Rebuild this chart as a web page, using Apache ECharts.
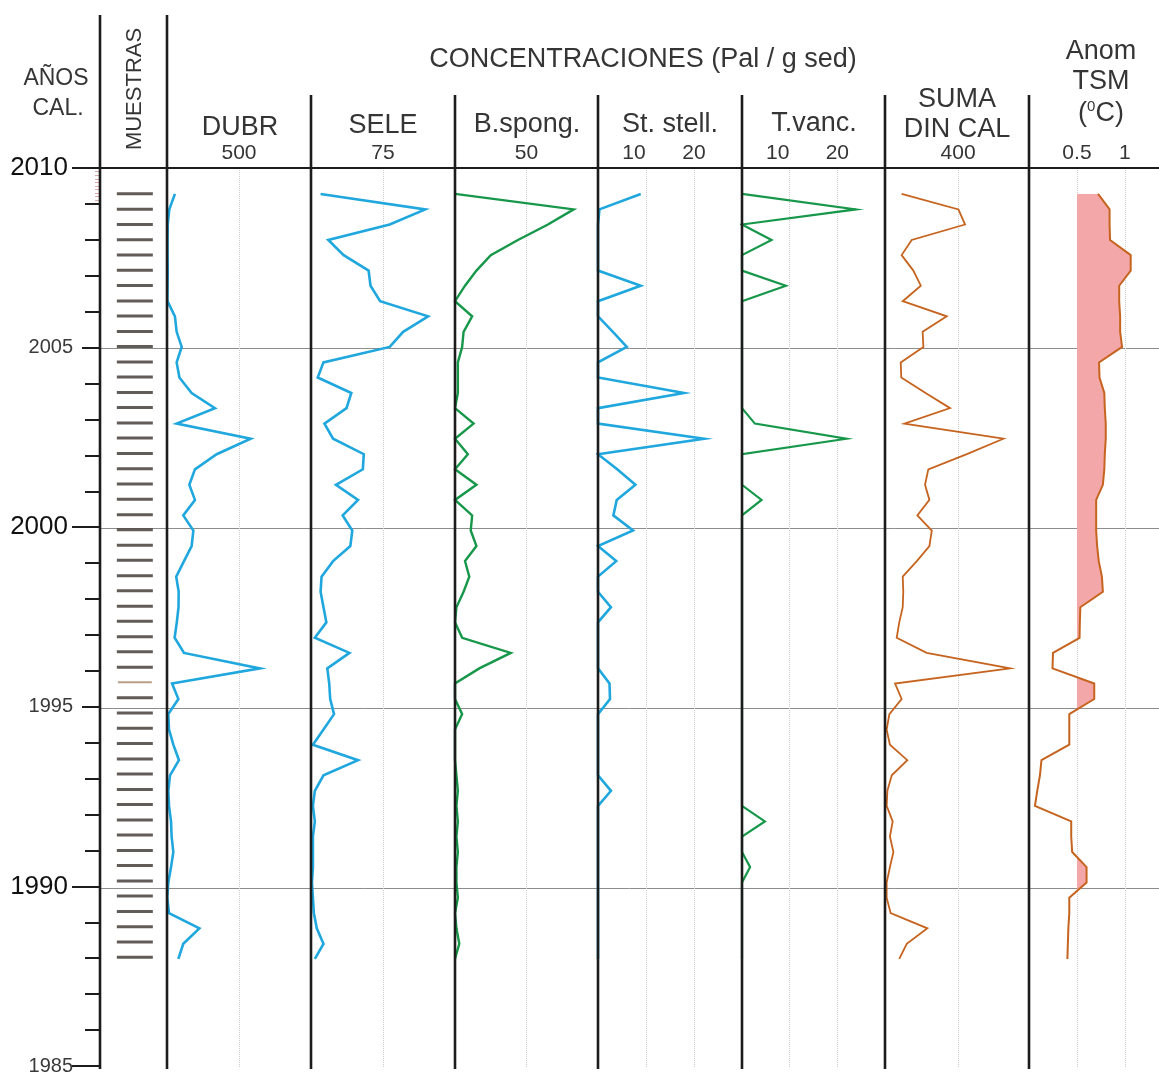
<!DOCTYPE html>
<html>
<head>
<meta charset="utf-8">
<script src="https://cdn.jsdelivr.net/npm/echarts@6/dist/echarts.min.js"></script>
<style>
  html, body { margin: 0; padding: 0; background: #ffffff; }
  #chart { width: 1159px; height: 1076px; }
</style>
</head>
<body>
<div id="chart"></div>
<script>
// Calibrated ages of the core samples (years AD), top to bottom
const sampleAge = [2009.28, 2008.85, 2008.43, 2008.00, 2007.58, 2007.15, 2006.73, 2006.30, 2005.88, 2005.45,
  2005.03, 2004.60, 2004.18, 2003.75, 2003.33, 2002.90, 2002.48, 2002.05, 2001.63, 2001.20,
  2000.78, 2000.35, 1999.93, 1999.50, 1999.08, 1998.65, 1998.23, 1997.80, 1997.38, 1996.95,
  1996.53, 1996.10, 1995.68, 1995.25, 1994.83, 1994.40, 1993.98, 1993.55, 1993.13, 1992.70,
  1992.28, 1991.85, 1991.43, 1991.00, 1990.58, 1990.15, 1989.73, 1989.30, 1988.88, 1988.45, 1988.03];

// Concentrations (Pal / g sed), one value per sample
const dubr = [55, 16, 5, 4, 4, 5, 4, 3, 55, 67,
  102, 67, 86, 171, 333, 67, 581, 345, 194, 155,
  194, 113, 183, 171, 118, 64, 81, 80, 68, 53,
  118, 646, 35, 79, 9, 14, 44, 83, 21, 9,
  14, 28, 32, 44, 28, 9, 2, 14, 225, 113, 79];
const sele = [10, 119, 82, 18, 34, 60, 62, 72, 122, 96,
  82, 13, 7, 42, 37, 14, 23, 55, 54, 26,
  49, 33, 43, 41, 23, 11, 10, 13, 16, 4,
  40, 17, 19, 20, 24, 13, 2, 49, 13, 4,
  2, 4, 2, 2, 2, 1, 2, 3, 6, 13, 4];
const bspong = [0, 83, 65, 44, 25, 15, 7, 0, 12, 6,
  5, 2, 2, 2, 0, 13, 0, 9, 0, 15,
  0, 12, 11, 15, 7, 10, 6, 1, 0, 5,
  39, 17, 0, 0, 5, 0, 0, 0, 1, 2,
  1, 2, 1, 2, 1, 1, 2, 0, 1, 3, 0];
const ststell = [8.9, 0.3, 0, 0, 0, 0, 8.9, 0, 0, 3.1,
  6.0, 0, 0, 17.9, 0, 0, 22.1, 0, 4.0, 7.8,
  3.9, 3.2, 7.3, 0, 3.8, 0, 0, 2.7, 0, 0,
  0, 0, 2.4, 2.5, 0, 0, 0, 0, 0, 2.7,
  0, 0, 0, 0, 0, 0, 0, 0, 0, 0, 0];
const tvanc = [0, 23.9, 0, 6.2, 0, 0, 9.2, 0, 0, 0,
  0, 0, 0, 0, 0, 2.7, 21.9, 0, 0, 0,
  4.1, 0, 0, 0, 0, 0, 0, 0, 0, 0,
  0, 0, 0, 0, 0, 0, 0, 0, 0, 0,
  0, 4.8, 0, 0, 1.7, 0, 0, 0, 0, 0, 0];
const sumaDinCal = [91, 402, 438, 146, 91, 155, 196, 97, 338, 206,
  210, 86, 89, 222, 356, 106, 648, 448, 237, 219,
  243, 177, 256, 243, 174, 97, 100, 97, 78, 64,
  228, 685, 55, 91, 24, 9, 27, 122, 37, 13,
  9, 42, 27, 46, 27, 9, 9, 31, 232, 119, 78];
// Sea-surface temperature anomaly (°C)
const anomTsm = [0.72, 0.84, 0.84, 0.845, 1.06, 1.06, 0.94, 0.94, 0.95, 0.95,
  0.97, 0.73, 0.735, 0.785, 0.79, 0.80, 0.80, 0.79, 0.785, 0.77,
  0.70, 0.70, 0.70, 0.71, 0.727, 0.76, 0.77, 0.535, 0.53, 0.527,
  0.25, 0.245, 0.68, 0.68, 0.42, 0.42, 0.42, 0.13, 0.114, 0.086,
  0.062, 0.44, 0.44, 0.45, 0.60, 0.60, 0.42, 0.42, 0.41, 0.405, 0.40];
const anomBase = 0.5;

// Age axis labels and tick groups
const ageLabels = [1985, 1990, 1995, 2000, 2005, 2010];
const ageMidTicks = [1995, 2005];
const ageLongTicks = [1985, 1990, 2000, 2010];
const rulerTicks = [2009.1, 2009.2, 2009.3, 2009.4, 2009.5, 2009.6, 2009.7, 2009.8, 2009.9];
const paleSampleIndex = 32;

// Scale labels printed above each column
const dubrLabels = [500];
const seleLabels = [75];
const bspongLabels = [50];
const ststellLabels = [10, 20];
const tvancLabels = [10, 20];
const sumaLabels = [400];
const anomLabels = [0.5, 1];

const FONT = '"Liberation Sans", Arial, Helvetica, sans-serif';
const INK = '#1c1c1c';
const TEXT = '#353535';
const BLUE = '#1fa7de';
const GREEN = '#17974a';
const ORANGE = '#c6641f';
const PINK = '#f4a7a8';
const TOP = 168, HEIGHT = 900;

const panels = [
  { left: 167, width: 144, max: 1000, interval: 500, labels: dubrLabels, data: dubr, color: BLUE, lw: 2.6 },
  { left: 311, width: 144, max: 150, interval: 75, labels: seleLabels, data: sele, color: BLUE, lw: 2.6 },
  { left: 455, width: 143, max: 100, interval: 50, labels: bspongLabels, data: bspong, color: GREEN, lw: 2.4 },
  { left: 598, width: 144, max: 30, interval: 10, labels: ststellLabels, data: ststell, color: BLUE, lw: 2.6, shift: 10 },
  { left: 742, width: 143, max: 30, interval: 10, labels: tvancLabels, data: tvanc, color: GREEN, lw: 2.2, shift: 10 },
  { left: 885, width: 144, max: 788, interval: 400, labels: sumaLabels, data: sumaDinCal, color: ORANGE, lw: 1.8 },
  { left: 1029, width: 131, max: 1.355, interval: 0.5, labels: anomLabels, data: anomTsm, color: ORANGE, lw: 2.0 }
];

const grids = [{ left: 100, top: TOP, width: 67, height: HEIGHT }];
const xAxes = [{
  gridIndex: 0, type: 'value', min: 0, max: 1, position: 'top',
  axisLine: { show: true, lineStyle: { color: INK, width: 2 } },
  axisTick: { show: false }, axisLabel: { show: false }, splitLine: { show: false }
}];
const ageAxisBase = {
  gridIndex: 0, type: 'value', min: 1985, max: 2010, position: 'left',
  axisLine: { show: false }, axisLabel: { show: false }, splitLine: { show: false }
};
const yAxes = [
  Object.assign({}, ageAxisBase, {
    interval: 1,
    axisLine: { show: true, lineStyle: { color: INK, width: 2 } },
    axisTick: { show: true, length: 15, lineStyle: { color: INK, width: 2 } },
    axisLabel: {
      show: true, customValues: ageLabels, margin: 27,
      formatter: v => (v % 10 === 0 ? '{b|' + v + '}' : '{s|' + v + '}'),
      rich: {
        b: { fontFamily: FONT, fontSize: 26, color: '#111', padding: [0, 5, 0, 0] },
        s: { fontFamily: FONT, fontSize: 20, color: '#3a3a3a' }
      }
    }
  }),
  Object.assign({}, ageAxisBase, {
    axisTick: { show: true, customValues: ageMidTicks, length: 18, lineStyle: { color: INK, width: 2 } }
  }),
  Object.assign({}, ageAxisBase, {
    axisTick: { show: true, customValues: ageLongTicks, length: 28, lineStyle: { color: INK, width: 2 } }
  }),
  Object.assign({}, ageAxisBase, {
    axisTick: { show: true, customValues: rulerTicks, length: 5, lineStyle: { color: '#d9a9a9', width: 1 } }
  })
];

const series = [{
  type: 'scatter', xAxisIndex: 0, yAxisIndex: 0, symbol: 'rect', symbolSize: [36, 3], silent: true,
  data: sampleAge.map((t, i) => ({
    value: [0.52, t],
    itemStyle: { color: i === paleSampleIndex ? '#a7876a' : '#3b3330' },
    symbolSize: i === paleSampleIndex ? [34, 2] : [36, 3]
  }))
}];

panels.forEach((p, k) => {
  grids.push({ left: p.left, top: TOP, width: p.width, height: HEIGHT });
  xAxes.push({
    gridIndex: k + 1, type: 'value', min: 0, max: p.max, interval: p.interval, position: 'top',
    axisLine: { show: true, lineStyle: { color: INK, width: 2 } },
    axisTick: { show: false },
    axisLabel: {
      show: true, customValues: p.labels, margin: 4,
      formatter: v => (p.shift !== undefined && v === p.shift ? '{l|' + v + '}' : '{n|' + v + '}'),
      rich: {
        n: { fontFamily: FONT, fontSize: 21, color: TEXT },
        l: { fontFamily: FONT, fontSize: 21, color: TEXT, padding: [0, 24, 0, 0] }
      }
    },
    splitLine: { show: true, lineStyle: { type: 'dotted', color: '#cdcdcd', width: 1 } }
  });
  yAxes.push({ gridIndex: k + 1, type: 'value', min: 1985, max: 2010, show: false });
});

// full-width frame carrying the 5-year reference lines
grids.push({ left: 100, top: TOP, width: 1059, height: HEIGHT });
xAxes.push({ gridIndex: grids.length - 1, type: 'value', min: 0, max: 1, show: false });
yAxes.push({
  gridIndex: grids.length - 1, type: 'value', min: 1985, max: 2010, interval: 5,
  axisLine: { show: false }, axisTick: { show: false }, axisLabel: { show: false },
  splitLine: { show: true, lineStyle: { width: 1, color: ['rgba(0,0,0,0)', '#8d8d8d', '#8d8d8d', '#8d8d8d', '#8d8d8d', 'rgba(0,0,0,0)'] } }
});

// shaded warm anomaly (values above the 0.5 °C reference)
const anomPanel = panels.length;
series.push({
  type: 'custom', xAxisIndex: anomPanel, yAxisIndex: anomPanel + 3, silent: true, z: 2,
  data: [[anomBase, sampleAge[0]]],
  encode: { x: 0, y: 1 },
  renderItem: function (params, api) {
    const pts = [api.coord([anomBase, sampleAge[0]])];
    for (let i = 0; i < anomTsm.length; i++) {
      if (i > 0) {
        const a = anomTsm[i - 1] - anomBase, b = anomTsm[i] - anomBase;
        if ((a > 0) !== (b > 0) && a !== b) {
          const f = a / (a - b);
          const t = sampleAge[i - 1] + f * (sampleAge[i] - sampleAge[i - 1]);
          pts.push(api.coord([anomBase, t]));
        }
      }
      pts.push(api.coord([Math.max(anomTsm[i], anomBase), sampleAge[i]]));
    }
    pts.push(api.coord([anomBase, sampleAge[sampleAge.length - 1]]));
    return { type: 'polygon', shape: { points: pts }, style: { fill: PINK } };
  }
});

panels.forEach((p, k) => {
  series.push({
    type: 'line', xAxisIndex: k + 1, yAxisIndex: k + 4, symbol: 'none', silent: true, z: 3,
    lineStyle: { color: p.color, width: p.lw, join: 'miter' },
    data: p.data.map((v, i) => [v, sampleAge[i]])
  });
});

// column separators and header text
function vline(x, y1, y2) {
  return { type: 'line', z: 100, silent: true, shape: { x1: x, y1: y1, x2: x, y2: y2 }, style: { stroke: INK, lineWidth: 2.6 } };
}
function label(text, x, y, size, extra) {
  return Object.assign({
    type: 'text', z: 100, silent: true, x: x, y: y,
    style: { text: text, fontFamily: FONT, fontSize: size, fill: TEXT, align: 'center', verticalAlign: 'middle' }
  }, extra || {});
}
const graphics = [
  vline(100, 15, 1069), vline(167, 15, 1069),
  vline(311, 95, 1069), vline(455, 95, 1069), vline(598, 95, 1069),
  vline(742, 95, 1069), vline(885, 95, 1069), vline(1029, 95, 1069),
  label('AÑOS', 56, 79, 23),
  label('CAL.', 58, 109, 23),
  label('MUESTRAS', 135, 89, 22, { rotation: Math.PI / 2 }),
  label('CONCENTRACIONES (Pal / g sed)', 643, 60, 27),
  label('DUBR', 240, 128, 27),
  label('SELE', 383, 126, 27),
  label('B.spong.', 527, 125, 27),
  label('St. stell.', 670, 125, 27),
  label('T.vanc.', 814, 124, 27),
  label('SUMA', 957, 100, 27),
  label('DIN CAL', 957, 130, 27),
  label('Anom', 1101, 52, 27),
  label('TSM', 1101, 82, 27),
  {
    type: 'text', z: 100, silent: true, x: 1101, y: 114,
    style: {
      text: '({s|0}C)', fontFamily: FONT, fontSize: 27, fill: TEXT, align: 'center', verticalAlign: 'middle',
      rich: { s: { fontFamily: FONT, fontSize: 15, fill: TEXT, verticalAlign: 'top', lineHeight: 30 } }
    }
  }
];

const chart = echarts.init(document.getElementById('chart'), null, { renderer: 'canvas' });
chart.setOption({
  animation: false,
  backgroundColor: '#ffffff',
  grid: grids,
  xAxis: xAxes,
  yAxis: yAxes,
  series: series,
  graphic: { elements: graphics }
});
</script>
</body>
</html>
